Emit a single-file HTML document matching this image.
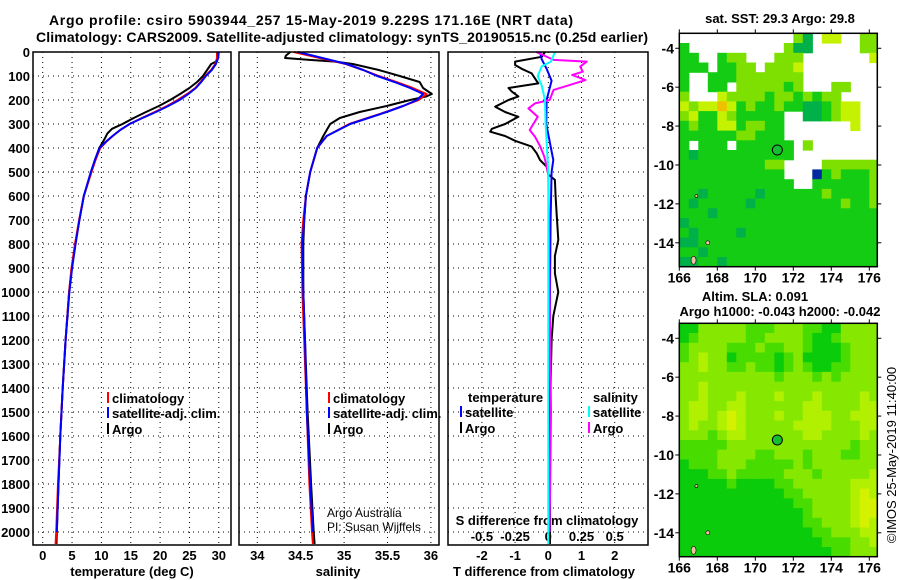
<!DOCTYPE html>
<html><head><meta charset="utf-8"><style>
html,body{margin:0;padding:0;background:#fff;}
svg{display:block;font-family:"Liberation Sans",sans-serif;}
.t{font-weight:bold;font-size:13px;fill:#000;}
.n{font-weight:normal;font-size:12px;fill:#000;}
</style></head><body>
<svg id="fig" width="900" height="580" viewBox="0 0 900 580" xmlns="http://www.w3.org/2000/svg">
<rect width="900" height="580" fill="#fff"/>
<text x="311" y="25" text-anchor="middle" class="t" style="font-size:14px" textLength="524">Argo profile: csiro 5903944_257 15-May-2019 9.229S 171.16E (NRT data)</text>
<text x="342" y="42" text-anchor="middle" class="t" style="font-size:14px" textLength="612">Climatology: CARS2009. Satellite-adjusted climatology: synTS_20190515.nc (0.25d earlier)</text>
<g id="plots"></g>
</svg>
<script>
// ---------- data ----------
const depthTicks = [0,100,200,300,400,500,600,700,800,900,1000,1100,1200,1300,1400,1500,1600,1700,1800,1900,2000];
const tempTicks = [0,5,10,15,20,25,30];
const salTicks = [34,34.5,35,35.5,36];
const salTickLabels = ["34","34.5","35","35.5","36"];
const tdiffTicks = [-2,-1,0,1,2];
const sdiffTicks = [-0.5,-0.25,0,0.25,0.5];
const sdiffTickLabels = ["-0.5","-0.25","0","0.25","0.5"];

const climDepth = [0,25,50,75,100,125,150,175,200,225,250,275,300,325,350,375,400,450,500,600,700,800,900,1000,1200,1400,1600,1800,2000,2050];
const tempClimSat = [29.9,29.9,29.5,28.8,27.8,27.0,26.1,24.8,23.3,21.4,19.3,17.0,14.8,13.2,11.9,10.7,9.7,8.9,8.2,7.0,6.25,5.6,5.0,4.55,3.9,3.4,3.0,2.7,2.4,2.35];
const tempClim = [29.7,29.7,29.4,28.7,27.7,26.9,26.0,24.6,23.0,21.2,19.1,16.9,14.8,13.2,11.9,10.8,9.8,9.0,8.3,7.0,6.2,5.5,4.9,4.5,3.9,3.4,3.0,2.6,2.3,2.2];
const argoDepth = [0,20,40,50,75,100,125,150,175,200,225,250,275,300,320,340,360,400,450,500,600,700,800,900,1000,1200,1400,1600,1800,2000,2050];
const tempArgo = [30.0,29.9,29.5,28.7,28.0,27.3,26.3,25.0,23.4,21.7,19.8,17.6,15.5,13.6,11.8,11.0,10.6,9.65,8.9,8.3,7.0,6.25,5.55,4.95,4.5,3.9,3.4,3.0,2.7,2.4,2.35];

const salDepth = [0,25,50,75,100,125,150,175,200,225,250,275,300,350,400,500,600,700,800,1000,1200,1500,1800,2000,2050];
const salClimSat = [34.47,34.75,35.03,35.22,35.38,35.58,35.76,35.91,35.84,35.68,35.49,35.28,35.07,34.8,34.69,34.61,34.56,34.54,34.52,34.53,34.55,34.57,34.61,34.64,34.65];
const salClim = [34.42,34.72,35.02,35.22,35.40,35.60,35.79,35.95,35.86,35.68,35.48,35.27,35.06,34.8,34.69,34.61,34.56,34.53,34.51,34.52,34.54,34.57,34.60,34.63,34.64];
const salArgoDepth = [0,15,25,33,40,50,75,100,125,150,175,185,200,225,250,275,300,350,400,500,600,700,800,1000,1200,1500,1800,2000,2050];
const salArgo = [34.38,34.33,34.32,34.6,34.9,35.1,35.4,35.64,35.87,35.91,36.01,35.95,35.76,35.49,35.18,34.95,34.84,34.76,34.69,34.61,34.56,34.54,34.53,34.53,34.55,34.58,34.62,34.65,34.66];

const tdArgoDepth = [0,20,40,54,70,89,110,131,150,165,185,200,228,250,270,300,320,332,350,370,394,422,450,478,510,533,600,672,783,850,922,1000,1100,1200,1500,2000,2050];
const tdArgo = [-0.1,-0.2,-1.0,-1.0,-0.8,-0.5,-0.4,-0.3,-1.2,-1.1,-0.9,-1.2,-1.6,-1.3,-0.9,-1.3,-1.7,-1.75,-1.3,-1.0,-0.5,-0.35,-0.25,-0.05,0.0,0.2,0.22,0.25,0.3,0.2,0.2,0.3,0.15,0.1,0.05,0.05,0.05];
const tdSatDepth = [0,30,70,120,200,300,380,450,500,700,1000,1400,1750];
const tdSat = [-0.25,-0.2,-0.05,0.1,-0.05,-0.06,0.05,0.15,0.1,0.07,0.05,0.05,0.05];
const sdArgoDepth = [0,33,40,61,82,96,117,138,158,200,214,235,270,325,353,394,436,506,1000,1500,2000];
const sdArgo = [-0.09,0.04,0.29,0.24,0.26,0.18,0.28,0.16,0.04,0.01,-0.1,-0.15,-0.08,-0.14,-0.1,-0.06,-0.03,0.0,0.01,0.02,0.01];
const sdSatDepth = [0,40,60,100,140,200,300,500,1000,2050];
const sdSat = [0.05,0.02,-0.05,-0.08,-0.05,-0.025,-0.02,0.0,0.0,0.0];

// map grids: rows from lat -3.2 southward in 0.5 deg steps, columns from lon 166 eastward in 0.5 deg steps
const sstRows = [
"WWWWWWWWWWWWLDWYYWWLL","GWWWWWWWWWWLDDWWWWWLL","GGWWGLLWWWLLLWWWWWWWY","GGGWGGLLWLLLYWWWWWWWW",
"GWWGGGLLLLLLLWWWWWWWW","GWWGGWLLLLLGLWWWLLWWW","LWWWYLLLLGLLGLGLLWWWW","YLYYOYGLGGLGGDDGLYYWW",
"LYGGYLGGGGGWWDDGLYYWW","GLGGYYGLLGGWWWWWWWYWW","GGGGGGLLGGGWWWWWWWWWW","GWGGGWGGGGGGWLWWWWWWW",
"GDGGGGGGGGGGWWWWWWWWW","GGGGGGGGGLLWWWWLLLLLL","GGGGGGGGGGGWWWBGLGGGL","GGGGGGGGGGGGWWGGGGGGL",
"GGDGGGGGDGGGGGGLGGGGL","GDGGGGGDGGGGGGGGGLGGL","GGGDGGGGGGGGGGGGGGGGG","DGGGGGGGGGGGGGGGGGGGG",
"GDGGGGDGGGGGGGGGGGGGG","DDGGGGGGGGGGGGGGGGGGG","GGDGGGGGGGGGGGGGGGGGG","DDGGDGGGGGGGGGGGGGGGG"];
const slaRows = [
"GGLLLLLMMMLLLMMGGLLLL","GMLLLLLMMLLLLMGGMLLLL","MLLLLMMMLMMLLMGGGMLLL","MLYLLGMMMMGMLGGGGMLLL",
"LLYLLMMLMMGMLMGGMMLLL","LLLLLLLLLLMLLLMLMLLLL","LLYLLLLLLLLLLLLLLLLLL","LLYLLLYLLLYLLLYLLLLYL",
"LYYLLYYLLLLLLYYLLLLYY","LYYLYZYLLLYLLYYYLLYYY","LYLLYZYLLLLLYYYYLLLYY","LLLMLYYLLLLLLYYLLLLYL",
"MMMMMLLLLLLLLLLLLLMLL","MMMMLLLLMMLLLMLLLMMLL","GMMMLLLMMMMMLMLLLLLLL","GGGMMLMMMMMLLLMLLLLLY",
"GGGGGMGGGGMMLLLLLLYYY","GGGGGGGGGGGMMLLLLLYZY","GGGGGGGGGGGGMMLLLLYZZ","GGGGGGGGGGGGGMLLLLYZZ",
"GGGGGGGGGGGGGMMLLLYZY","GGGGGGGGGGGGGGMMLLLYY","GGGGGGGGGGGGGGGMMMLLY","GGGGGGGGGGGGGGGGMMLLL"];
const lonTicks = [166,168,170,172,174,176];
const latTicks = [-4,-6,-8,-10,-12,-14];
const argoLon = 171.16, argoLat = -9.229;

// ---------- helpers ----------
const NS = "http://www.w3.org/2000/svg";
const root = document.getElementById('plots');
function mk(tag, attrs, parent){
  const e = document.createElementNS(NS, tag);
  for (const k in attrs) e.setAttribute(k, attrs[k]);
  (parent||root).appendChild(e);
  return e;
}
function txt(x,y,s,anchor,cls,parent){
  const e = mk('text',{x:x,y:y,'text-anchor':anchor||'middle','class':cls||'t'},parent);
  e.textContent = s;
  return e;
}
const PT = 52, PB = 545;
const yDepth = d => PT + d*0.24;

function panel(name){
  const g = mk('g',{});
  
  
  return g;
}
function gridY(g,x0,x1){
  depthTicks.forEach(d=>{
    const l = mk('line',{x1:x0,x2:x1,y1:yDepth(d),y2:yDepth(d),stroke:'#000','stroke-width':1,'stroke-dasharray':'1,4'},g);
    
    
  });
}
function gridX(g,xs){
  xs.forEach(x=>{
    const l = mk('line',{x1:x,x2:x,y1:PT,y2:PB,stroke:'#000','stroke-width':1,'stroke-dasharray':'1,4'},g);
    
    
  });
}
function frame(g,x0,x1){
  const r = mk('rect',{x:x0,y:PT,width:x1-x0,height:PB-PT,fill:'none',stroke:'#000','stroke-width':1.5},g);
  
  
}
function series(g,depths,vals,xs,color,w,name,x0,x1){
  const pts = depths.map((d,i)=>Math.max(x0,Math.min(x1,xs(vals[i]))).toFixed(1)+','+yDepth(d).toFixed(1)).join(' ');
  const p = mk('polyline',{points:pts,fill:'none',stroke:color,'stroke-width':w,'stroke-linejoin':'round'},g);
  
  
}
function legendItem(g,x,y,color,label,name){
  const r = mk('rect',{x:x,y:y-6,width:2,height:11,fill:color},g);
  
  
  const t = txt(x+5,y+5,label,'start','t',g);
  
  
}

// ---------- temperature panel ----------
(function(){
  const x0=33,x1=231;
  const xs = v => 42.7 + v*5.87;
  const g = panel('temperature-panel');
  gridY(g,x0,x1); gridX(g,tempTicks.map(xs));
  depthTicks.forEach(d=>{
    const t = txt(30,yDepth(d)+5,String(d),'end','t',g);
    
    
  });
  tempTicks.forEach(v=>{
    const t = txt(xs(v),560,String(v),'middle','t',g);
    
    
  });
  const at = txt(132,576,'temperature (deg C)','middle','t',g);
  
  
  series(g,argoDepth,tempArgo,xs,'#000',2,'argo-temperature-line',x0,x1);
  series(g,climDepth,tempClim,xs,'#f00',2,'climatology-temperature-line',x0,x1);
  series(g,climDepth.slice(0,-1),tempClimSat.slice(0,-1),xs,'#00f',2,'satellite-clim-temperature-line',x0,x1);
  frame(g,x0,x1);
  legendItem(g,107,398,'#f00','climatology','legend-climatology');
  legendItem(g,107,413,'#00f','satellite-adj. clim.','legend-satellite-adj');
  legendItem(g,107,429,'#000','Argo','legend-argo');
})();

// ---------- salinity panel ----------
(function(){
  const x0=239,x1=439;
  const xs = v => 257.3 + (v-34)*86.8;
  const g = panel('salinity-panel');
  gridY(g,x0,x1); gridX(g,salTicks.map(xs));
  salTicks.forEach((v,i)=>{
    const t = txt(xs(v),560,salTickLabels[i],'middle','t',g);
    
    
  });
  const at = txt(338,576,'salinity','middle','t',g);
  
  
  series(g,salArgoDepth,salArgo,xs,'#000',2,'argo-salinity-line',x0,x1);
  series(g,salDepth,salClim,xs,'#f00',2,'climatology-salinity-line',x0,x1);
  series(g,salDepth.slice(0,-1),salClimSat.slice(0,-1),xs,'#00f',2,'satellite-clim-salinity-line',x0,x1);
  frame(g,x0,x1);
  legendItem(g,328,398,'#f00','climatology','legend-climatology');
  legendItem(g,328,413,'#00f','satellite-adj. clim.','legend-satellite-adj');
  legendItem(g,328,429,'#000','Argo','legend-argo');
  const c1 = txt(327,517,'Argo Australia','start','n',g);
  
  
  const c2 = txt(327,531,'PI: Susan Wijffels','start','n',g);
  
  
})();

// ---------- difference panel ----------
(function(){
  const x0=448,x1=648;
  const xt = v => 548.3 + v*33.2;
  const xsd = v => 548.3 + v*132.8;
  const g = panel('difference-panel');
  gridY(g,x0,x1); gridX(g,tdiffTicks.map(xt));
  tdiffTicks.forEach(v=>{
    const t = txt(xt(v),560,String(v),'middle','t',g);
    
    
  });
  sdiffTicks.forEach((v,i)=>{
    const t = txt(xsd(v),541,sdiffTickLabels[i],'middle','t',g);
    
    
  });
  const st = txt(547,525,'S difference from climatology','middle','t',g);
  
  
  const at = txt(544,576,'T difference from climatology','middle','t',g);
  
  
  series(g,tdArgoDepth,tdArgo,xt,'#000',2,'argo-temperature-diff-line',x0,x1);
  series(g,tdSatDepth,tdSat,xt,'#00f',2,'satellite-temperature-diff-line',x0,x1);
  series(g,sdArgoDepth,sdArgo,xsd,'#f0f',2,'argo-salinity-diff-line',x0,x1);
  series(g,sdSatDepth,sdSat,xsd,'#0ff',2,'satellite-salinity-diff-line',x0,x1);
  frame(g,x0,x1);
  const h1 = txt(468,402,'temperature','start','t',g);
  
  
  legendItem(g,460,412,'#00f','satellite','legend-t-satellite');
  legendItem(g,460,428,'#000','Argo','legend-t-argo');
  const h2 = txt(593,402,'salinity','start','t',g);
  
  
  legendItem(g,588,412,'#0ff','satellite','legend-s-satellite');
  legendItem(g,588,428,'#f0f','Argo','legend-s-argo');
})();

// ---------- maps ----------
const sstColors = {W:'#ffffff',G:'#14cc14',D:'#00b048',L:'#7ee000',Y:'#c4f200',O:'#f0c000',B:'#0028a0'};
const slaColors = {G:'#0acc0a',M:'#48dc00',L:'#86e800',Y:'#b0f000',Z:'#d4f200'};
function drawMap(name,top,bottom,rows,colors,titleLines){
  const x0=679.3, x1=877.3;
  const lx = lon => 679.3 + (lon-166)*19.0;
  const topLat = -3.23, scaleY = (bottom-top)/12.0;
  const ly = lat => top + (topLat-lat)*scaleY;
  const g = panel(name);
  const cid = name+'-clip';
  const cp = mk('clipPath',{id:cid},g);
  mk('rect',{x:x0,y:top,width:x1-x0,height:bottom-top},cp);
  const cg = mk('g',{'clip-path':'url(#'+cid+')'},g);
  rows.forEach((row,ri)=>{
    for(let ci=0;ci<row.length;ci++){
      const c = row[ci];
      if(c==='W') continue;
      const lon = 166+ci*0.5, lat = topLat - ri*0.5;
      const r = mk('rect',{x:lx(lon).toFixed(1),y:ly(lat).toFixed(1),width:(0.5*19+0.6).toFixed(1),height:(0.5*scaleY+0.6).toFixed(1),fill:colors[c]},cg);
      
      
    }
  });
  [[166.75,-14.9,2.5,4],[167.5,-14.0,2,2],[166.9,-11.6,1.5,1.5]].forEach(a=>{
    const e = mk('ellipse',{cx:lx(a[0]),cy:ly(a[1]),rx:a[2],ry:a[3],fill:'#f0c0a0',stroke:'#000','stroke-width':0.6},cg);
    
    
  });
  const r = mk('rect',{x:x0,y:top,width:x1-x0,height:bottom-top,fill:'none',stroke:'#000','stroke-width':1.5},g);
  
  
  lonTicks.forEach(v=>{
    mk('line',{x1:lx(v),x2:lx(v),y1:top-4,y2:top,stroke:'#000'},g);
    mk('line',{x1:lx(v),x2:lx(v),y1:bottom,y2:bottom+4,stroke:'#000'},g);
    const t = txt(lx(v),bottom+16,String(v),'middle','t',g);
    t.setAttribute('style','font-size:14px');
    
    
  });
  latTicks.forEach(v=>{
    mk('line',{x1:x0-4,x2:x0,y1:ly(v),y2:ly(v),stroke:'#000'},g);
    mk('line',{x1:x1,x2:x1+4,y1:ly(v),y2:ly(v),stroke:'#000'},g);
    const t = txt(674,ly(v)+5,String(v),'end','t',g);
    t.setAttribute('style','font-size:14px');
    
    
  });
  const m = mk('circle',{cx:lx(argoLon),cy:ly(argoLat),r:5,fill:'#14c030',stroke:'#000','stroke-width':1},g);
  
  
  titleLines.forEach(tl=>{
    const t = txt(tl[0],tl[1],tl[2],'middle','t',g);
    
    
  });
}
drawMap('sst-map',33.3,266.7,sstRows,sstColors,[[780,23,'sat. SST: 29.3 Argo: 29.8']]);
drawMap('sla-map',323.3,556.7,slaRows,slaColors,[[755,301,'Altim. SLA: 0.091'],[780,316,'Argo h1000: -0.043 h2000: -0.042']]);

const cr = txt(0,0,'©IMOS 25-May-2019 11:40:00','middle','n');
cr.setAttribute('transform','translate(896,455) rotate(-90)');
cr.setAttribute('style','font-size:13px');


</script>
</body></html>
